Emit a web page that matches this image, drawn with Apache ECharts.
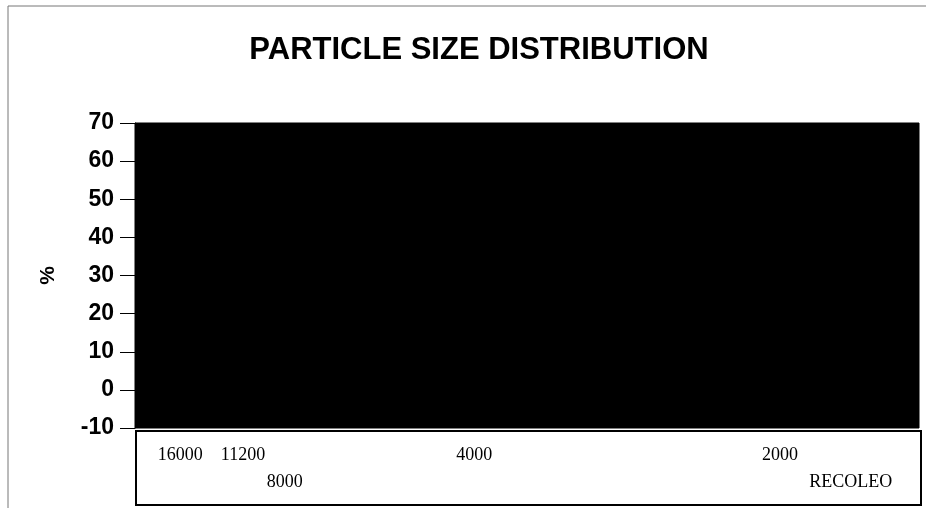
<!DOCTYPE html>
<html>
<head>
<meta charset="utf-8">
<script src="https://cdn.jsdelivr.net/npm/echarts@6/dist/echarts.min.js"></script>
<style>
  html, body { margin: 0; padding: 0; background: #fff; }
  #main { width: 926px; height: 508px; }
</style>
</head>
<body>
<div id="main"></div>
<script>
// sieve sizes (x categories) as printed under the plot
var sizes = ['16000', '11200', '8000', '4000', '2000', 'RECOLEO'];
// y axis ticks (%)
var yTicks = [-10, 0, 10, 20, 30, 40, 50, 60, 70];
// the plot area of the scan is solid black, no series value can be read
var percent = [];

var chart = echarts.init(document.getElementById('main'));

// horizontal nudge of each label (px) and which ones sit on the lower row
var labelShift = [-20, -88, -177, -118, 57, -3];
var lowerRow = [false, false, true, false, false, true];

var option = {
    backgroundColor: '#fff',
    animation: false,
    title: {
        text: 'PARTICLE SIZE DISTRIBUTION',
        left: 474,
        textAlign: 'center',
        top: 30,
        textStyle: {
            fontFamily: 'Liberation Sans, Arial, sans-serif',
            fontWeight: 'bold',
            fontSize: 31,
            color: '#000'
        }
    },
    graphic: [
        // thin outer frame of the scanned page (top and left edges)
        {
            type: 'polyline', silent: true, z: -1,
            shape: { points: [[8, 508], [8, 6], [926, 6]] },
            style: { fill: null, stroke: '#777', lineWidth: 1 }
        },
        // box round the category labels
        {
            type: 'rect', silent: true,
            shape: { x: 136, y: 431, width: 785, height: 74 },
            style: { fill: null, stroke: '#000', lineWidth: 2 }
        }
    ],
    grid: {
        left: 135,
        right: 7,
        top: 123,
        bottom: 80,
        show: true,
        backgroundColor: '#000',
        borderColor: '#000'
    },
    xAxis: {
        type: 'category',
        data: sizes,
        axisLine: { show: false },
        axisTick: { show: false },
        axisLabel: {
            interval: 0,
            margin: 14,
            formatter: function (v, i) {
                var style = 'p' + i;
                return (lowerRow[i] ? '{' + style + '|}\n' : '') + '{' + style + '|' + v + '}';
            },
            rich: (function () {
                var r = {};
                for (var i = 0; i < sizes.length; i++) {
                    var s = labelShift[i];
                    r['p' + i] = {
                        fontFamily: 'Liberation Serif, Times New Roman, serif',
                        fontSize: 18,
                        color: '#000',
                        lineHeight: 27,
                        padding: s < 0 ? [0, -2 * s, 0, 0] : [0, 0, 0, 2 * s]
                    };
                }
                return r;
            })()
        },
        splitLine: { show: false }
    },
    yAxis: {
        type: 'value',
        min: yTicks[0],
        max: yTicks[yTicks.length - 1],
        interval: 10,
        name: '%',
        nameLocation: 'middle',
        nameRotate: 90,
        nameGap: 76,
        nameTextStyle: {
            fontFamily: 'Liberation Sans, Arial, sans-serif',
            fontWeight: 'bold',
            fontSize: 21,
            color: '#000'
        },
        axisLine: { show: true, lineStyle: { color: '#000', width: 1 } },
        axisTick: { show: true, inside: false, length: 15, lineStyle: { color: '#000' } },
        axisLabel: {
            margin: 21,
            fontFamily: 'Liberation Sans, Arial, sans-serif',
            fontWeight: 'bold',
            fontSize: 23,
            color: '#000'
        },
        splitLine: { show: false }
    },
    series: [
        {
            type: 'bar',
            data: percent,
            itemStyle: { color: '#000' }
        }
    ]
};

chart.clear();
chart.setOption(option);
</script>
</body>
</html>
